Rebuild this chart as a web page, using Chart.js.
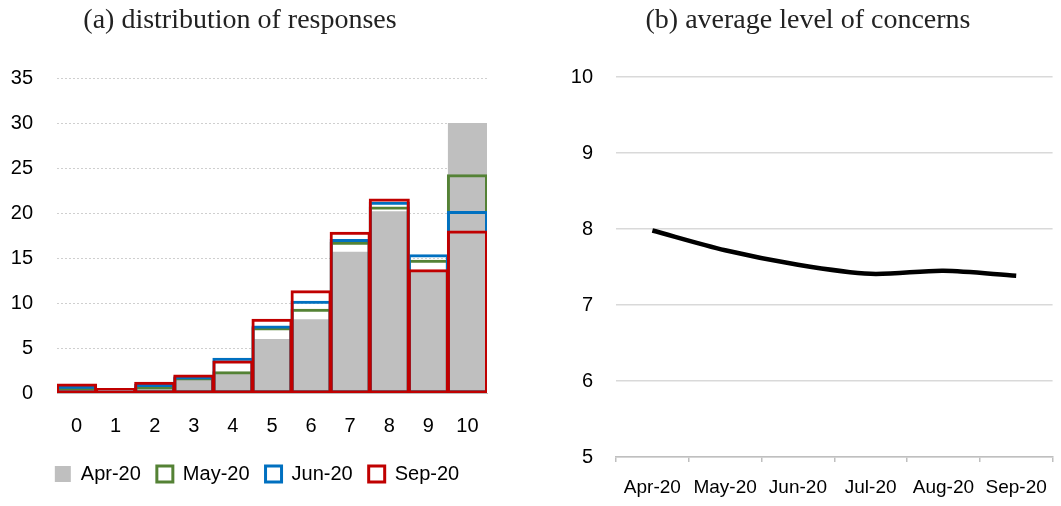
<!DOCTYPE html>
<html><head><meta charset="utf-8">
<script src="https://cdn.jsdelivr.net/npm/chart.js@4/dist/chart.umd.min.js"></script>
<style>
html,body{margin:0;padding:0;background:#fff;}
#wrap{position:relative;width:1061px;height:506px;overflow:hidden;background:#fff;}
.t{position:absolute;top:2px;font-family:"Liberation Serif","Times New Roman",serif;font-size:28px;line-height:34px;color:#222;white-space:nowrap;transform:translateX(-50%);}
#b1{position:absolute;left:0;top:0;width:514px;height:506px;}
#b2{position:absolute;left:540px;top:0;width:521px;height:506px;}
</style></head>
<body>
<div id="wrap">
  <div id="b1"><canvas id="c1" width="514" height="506"></canvas></div>
  <div id="b2"><canvas id="c2" width="521" height="506"></canvas></div>
  <div class="t" style="left:240px">(a) distribution of responses</div>
  <div class="t" style="left:808px">(b) average level of concerns</div>
</div>
<script>
// ---- data ----
const scoreLabels = ['0','1','2','3','4','5','6','7','8','9','10'];
const apr20 = [0.3, 0.1, 0.6, 1.5, 2.2, 6.0, 8.2, 15.7, 20.2, 13.5, 30.0];
const may20 = [0.45, 0.15, 0.65, 1.65, 2.3, 7.2, 9.25, 16.7, 20.6, 14.7, 24.2];
const jun20 = [0.7, 0.2, 0.9, 1.75, 3.8, 7.4, 10.15, 17.0, 21.15, 15.3, 20.1];
const sep20 = [0.95, 0.45, 1.15, 1.95, 3.5, 8.15, 11.3, 17.8, 21.5, 13.65, 17.95];
const yTicksA = {min: 0, max: 35, step: 5};

const months = ['Apr-20','May-20','Jun-20','Jul-20','Aug-20','Sep-20'];
const avgConcern = [7.98, 7.72, 7.53, 7.41, 7.45, 7.385];
const yTicksB = {min: 5, max: 10, step: 1};

const SANS = "'Liberation Sans',Arial,sans-serif";
Chart.defaults.font.family = SANS;
Chart.defaults.color = '#000';

function outline(label, data, color, order) {
  return {label, data, backgroundColor: 'rgba(0,0,0,0)', borderColor: color,
    borderWidth: 1, inflateAmount: 1, borderSkipped: false, order,
    grouped: false, barPercentage: 1, categoryPercentage: 1};
}

new Chart(document.getElementById('c1'), {
  type: 'bar',
  data: {
    labels: scoreLabels,
    datasets: [
      {label: 'Apr-20', data: apr20, backgroundColor: '#bfbfbf', borderWidth: 0,
       inflateAmount: 0, order: 4, grouped: false, barPercentage: 1, categoryPercentage: 1},
      outline('May-20', may20, '#548235', 3),
      outline('Jun-20', jun20, '#0070c0', 2),
      outline('Sep-20', sep20, '#c00000', 1)
    ]
  },
  options: {
    responsive: false, animation: false, devicePixelRatio: 1,
    layout: {padding: {top: 78, left: 0, right: 0, bottom: 12}},
    plugins: {
      tooltip: {enabled: false},
      legend: {
        position: 'bottom',
        labels: {
          font: {size: 20}, color: '#000', boxWidth: 16, boxHeight: 16, padding: 16,
          sort: (a, b) => a.datasetIndex - b.datasetIndex,
          generateLabels: (chart) => Chart.defaults.plugins.legend.labels.generateLabels(chart)
            .map(it => { it.lineWidth = it.datasetIndex === 0 ? 0 : 3;
                         if (it.datasetIndex !== 0) it.fillStyle = '#fff'; return it; })
        }
      }
    },
    scales: {
      x: {
        grid: {display: false},
        border: {display: true, color: '#bfbfbf', width: 1},
        ticks: {font: {size: 20}, padding: 13, color: '#000'},
        afterFit: (s) => { s.height = 55; }
      },
      y: {
        min: yTicksA.min, max: yTicksA.max,
        ticks: {stepSize: yTicksA.step, font: {size: 20}, padding: 24, color: '#000'},
        grid: {color: (c) => c.tick && c.tick.value === 0 ? 'rgba(0,0,0,0)' : '#cfcfcf', drawTicks: false, lineWidth: 1},
        border: {display: false, dash: [2, 2]},
        afterFit: (s) => { s.width = 57; }
      },
      yPad: {
        position: 'right', display: true, min: 0, max: 1,
        ticks: {display: false}, grid: {display: false}, border: {display: false},
        afterFit: (s) => { s.width = 27; }
      }
    }
  }
});

new Chart(document.getElementById('c2'), {
  type: 'line',
  data: {
    labels: months,
    datasets: [{label: 'average', data: avgConcern, borderColor: '#000', backgroundColor: '#000',
      borderWidth: 4.5, pointRadius: 0, tension: 0.3, fill: false}]
  },
  options: {
    responsive: false, animation: false, devicePixelRatio: 1,
    layout: {padding: {top: 77, left: 0, right: 2, bottom: 4}},
    plugins: {legend: {display: false}, tooltip: {enabled: false}},
    scales: {
      x: {
        offset: true,
        grid: {display: true, offset: true, drawOnChartArea: false, drawTicks: true, tickLength: 5, color: '#bfbfbf', lineWidth: 1.5},
        border: {display: true, color: '#bfbfbf', width: 1.5},
        ticks: {font: {size: 19}, padding: 14, color: '#000', maxRotation: 0, autoSkip: false},
        afterFit: (s) => { s.height = 45; }
      },
      y: {
        min: yTicksB.min, max: yTicksB.max,
        ticks: {stepSize: yTicksB.step, font: {size: 20}, padding: 23, color: '#000'},
        grid: {color: '#d9d9d9', drawTicks: false, lineWidth: 1.5},
        border: {display: false},
        afterFit: (s) => { s.width = 76; }
      }
    }
  }
});
</script>
</body></html>
